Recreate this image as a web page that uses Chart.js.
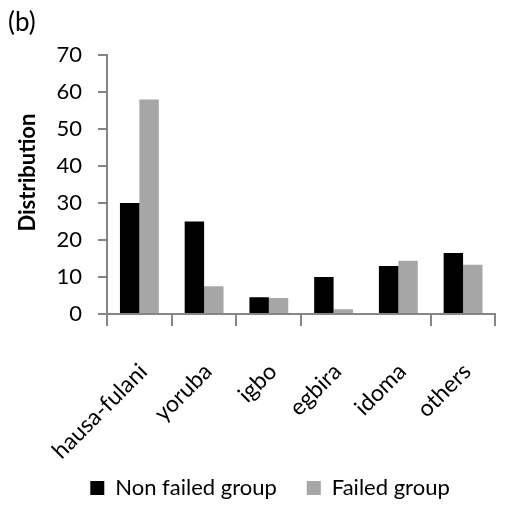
<!DOCTYPE html>
<html>
<head>
<meta charset="utf-8">
<script src="https://cdn.jsdelivr.net/npm/chart.js@4"></script>
<style>
  html, body { margin: 0; padding: 0; background: #fff; }
  #wrap { width: 515px; height: 509px; position: relative; }
</style>
</head>
<body>
<div id="wrap"><canvas id="c"></canvas></div>
<script>
const categories = ['hausa-fulani', 'yoruba', 'igbo', 'egbira', 'idoma', 'others'];
const nonFailedGroup = [30, 25, 4.5, 10, 13, 16.5];
const failedGroup = [58, 7.5, 4.3, 1.3, 14.4, 13.3];
const yTickValues = [0, 10, 20, 30, 40, 50, 60, 70];
const seriesNames = ['Non failed group', 'Failed group'];
const yAxisTitle = 'Distribution';

const FONT = 'Lato, "Liberation Sans", sans-serif';
const AXIS = '#868686';

const yTitlePlugin = {
  id: 'yTitle',
  afterDraw(chart) {
    const { ctx, chartArea } = chart;
    ctx.save();
    ctx.translate(28, (chartArea.top + chartArea.bottom) / 2 - 12);
    ctx.rotate(-Math.PI / 2);
    ctx.font = 'bold 22px ' + FONT;
    ctx.textAlign = 'center';
    ctx.textBaseline = 'middle';
    ctx.fillStyle = '#000';
    ctx.fillText(yAxisTitle, 0, 0);
    ctx.restore();
  }
};

const layoutTweak = {
  id: 'layoutTweak',
  afterLayout(chart) {
    if (chart.legend) { chart.legend.left += 11; chart.legend.right += 11; }
    if (chart.scales.x) { chart.scales.x.bottom += 16; }
  }
};

new Chart(document.getElementById('c'), {
  type: 'bar',
  data: {
    labels: categories,
    datasets: [
      { label: seriesNames[0], data: nonFailedGroup, backgroundColor: '#000000', borderWidth: 0 },
      { label: seriesNames[1], data: failedGroup, backgroundColor: '#a6a6a6', borderWidth: 0 }
    ]
  },
  plugins: [yTitlePlugin, layoutTweak],
  options: {
    responsive: true,
    maintainAspectRatio: false,
    animation: false,
    devicePixelRatio: 1,
    layout: { padding: { left: 8, right: 5, top: 0, bottom: 0 } },
    datasets: { bar: { categoryPercentage: 0.6, barPercentage: 1.0 } },
    plugins: {
      title: {
        display: true, text: '(b)', align: 'start', color: '#000',
        font: { family: FONT, size: 26, weight: 'normal' },
        padding: { top: 7, bottom: 17 }
      },
      legend: {
        position: 'bottom',
        labels: {
          color: '#000', boxWidth: 14, boxHeight: 14, padding: 30,
          font: { family: FONT, size: 22 }
        }
      },
      tooltip: { enabled: false }
    },
    scales: {
      x: {
        offset: true,
        grid: {
          drawOnChartArea: false, drawTicks: true, tickLength: 12, lineWidth: 2,
          color: (ctx) => ctx.index === 4 ? 'rgba(0,0,0,0)' : AXIS
        },
        border: { display: true, color: AXIS, width: 2 },
        ticks: {
          color: '#000', minRotation: 45, maxRotation: 45, padding: 32, labelOffset: 4,
          font: { family: FONT, size: 23 }
        },
        afterFit: (s) => { s.height = 133; }
      },
      y: {
        min: 0, max: 70,
        afterBuildTicks: (s) => { s.ticks = yTickValues.map(v => ({ value: v })); },
        grid: { drawOnChartArea: false, drawTicks: true, tickLength: 9, lineWidth: 2, color: AXIS },
        border: { display: true, color: AXIS, width: 2 },
        ticks: { color: '#000', padding: 16, font: { family: FONT, size: 22 } },
        title: { display: false },
        afterFit: (s) => { s.width = 99; }
      }
    }
  }
});
</script>
</body>
</html>
